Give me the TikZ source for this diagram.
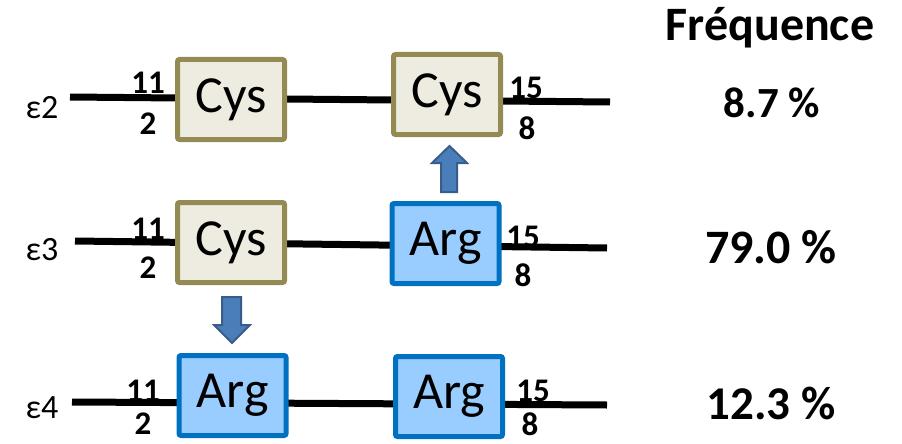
\documentclass[tikz,border=0pt]{standalone}
\usepackage{fontspec}
\setmainfont{Carlito}
\definecolor{tanfill}{HTML}{EEECE1}
\definecolor{tanedge}{HTML}{948A54}
\definecolor{argfill}{HTML}{99CCFF}
\definecolor{argedge}{HTML}{0070C0}
\definecolor{arrfill}{HTML}{4A7EBB}
\definecolor{arredge}{HTML}{385D8A}
\tikzset{
  gene/.style={line width=7pt, black},
  aabox/.style={draw, line width=5pt, rounded corners=2pt, minimum width=107pt,
    minimum height=80pt, inner sep=0pt, font=\fontsize{52}{56}\selectfont},
  cys/.style={aabox, fill=tanfill, draw=tanedge},
  arg/.style={aabox, fill=argfill, draw=argedge},
  resnum/.style={font=\bfseries\fontsize{33}{36}\selectfont, inner sep=0pt},
  allele/.style={font=\fontsize{34}{36}\selectfont, inner sep=0pt},
  freq/.style={font=\bfseries\fontsize{43}{48}\selectfont, inner sep=0pt},
  bigarrow/.style={fill=arrfill, draw=arredge, line width=2pt, line join=miter},
}
\begin{document}
\begin{tikzpicture}[x=1pt,y=-1pt]
\useasboundingbox (0,0) rectangle (902,444);

% gene backbones (drawn first, boxes sit on top)
\coordinate (l2) at (70,97);  \coordinate (r2) at (610,102);
\coordinate (l3) at (75,241); \coordinate (r3) at (607,248);
\coordinate (l4) at (72,402); \coordinate (r4) at (607,405);
\draw[gene] (l2) -- (r2);
\draw[gene] (l3) -- (r3);
\draw[gene] (l4) -- (r4);

% epsilon 2
\node[cys] (c2a) at (231,99.5) {Cys};
\node[cys] (c2b) at (447,94.5) {Cys};
% epsilon 3
\node[cys] (c3a) at (231,242.5) {Cys};
\node[arg] (a3b) at (445.5,243.5) {Arg};
% epsilon 4
\node[arg] (a4a) at (232.5,395.5) {Arg};
\node[arg] (a4b) at (449,396.5) {Arg};

% allele names
\node[allele] (e2) at (42,108) {ε2};
\node[allele] (e3) at (42,250) {ε3};
\node[allele] (e4) at (42,408) {ε4};

% residue positions
\node[resnum] (p2a) at (148,83) {11};  \node[resnum] (p2b) at (148,124) {2};
\node[resnum] (p2c) at (526,88) {15};  \node[resnum] (p2d) at (527,128) {8};
\node[resnum] (p3a) at (148,229) {11}; \node[resnum] (p3b) at (148,268) {2};
\node[resnum] (p3c) at (523,237) {15}; \node[resnum] (p3d) at (523,275) {8};
\node[resnum] (p4a) at (143,391) {11}; \node[resnum] (p4b) at (143,424) {2};
\node[resnum] (p4c) at (533,391) {15}; \node[resnum] (p4d) at (530,424) {8};

% substitution arrows
\draw[bigarrow] (441,192) -- (441,163) -- (432,163) -- (449.5,146) -- (467,163)
  -- (457,163) -- (457,192) -- cycle;
\draw[bigarrow] (222,297) -- (222,325) -- (214,325) -- (232,343) -- (250,325)
  -- (241,325) -- (241,297) -- cycle;

% frequencies
\node[freq, font=\bfseries\fontsize{48}{52}\selectfont] (fh) at (770,28) {Fréquence};
\node[freq] (f2) at (772,103) {8.7 \%};
\node[freq, font=\bfseries\fontsize{48}{52}\selectfont] (f3) at (771,247) {79.0 \%};
\node[freq, font=\bfseries\fontsize{47}{52}\selectfont] (f4) at (771,403) {12.3 \%};
\end{tikzpicture}
\end{document}
